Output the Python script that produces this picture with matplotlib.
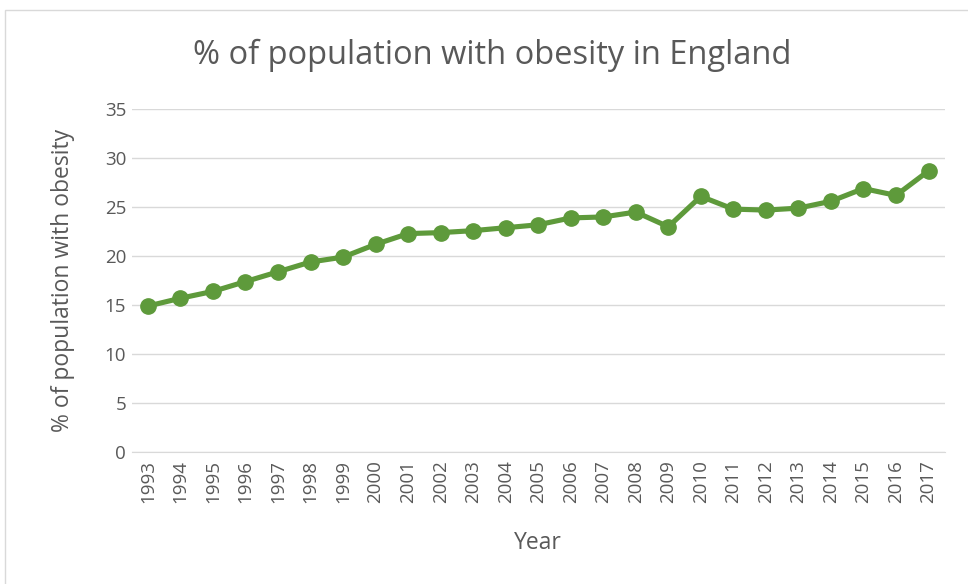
import matplotlib
matplotlib.use("Agg")
import matplotlib.pyplot as plt
from matplotlib.patches import Rectangle

years = [str(y) for y in range(1993, 2018)]
obesity = [14.9, 15.7, 16.4, 17.4, 18.4, 19.4, 19.9, 21.2, 22.3, 22.4,
           22.6, 22.9, 23.2, 23.9, 24.0, 24.5, 23.0, 26.1, 24.8, 24.7,
           24.9, 25.6, 26.9, 26.2, 28.7]

plt.rcParams['font.family'] = ['Open Sans', 'DejaVu Sans']

fig = plt.figure(figsize=(9.68, 5.84), dpi=100)
ax = fig.add_axes([0.136, 0.226, 0.840, 0.587])

# chart border like the spreadsheet frame
fig.patches.append(Rectangle((5 / 968, -0.01), 1.0, 1 - 10 / 584 + 0.01,
                             transform=fig.transFigure, fill=False,
                             edgecolor='#d9d9d9', linewidth=1))

x = range(len(years))
ax.plot(x, obesity, color='#5E9A3B', linewidth=3.7, marker='o',
        markersize=11, solid_capstyle='round', zorder=3)

ax.set_xlim(-0.5, len(years) - 0.5)
ax.set_ylim(0, 35)
ax.set_yticks(range(0, 36, 5))
ax.set_xticks(list(x))
ax.set_xticklabels(years, rotation=90)
ax.grid(axis='y', color='#d9d9d9', linewidth=1)
ax.set_axisbelow(True)
for s in ['top', 'right', 'left']:
    ax.spines[s].set_visible(False)
ax.spines['bottom'].set_color('#d9d9d9')
ax.tick_params(axis='x', length=0, labelsize=13.5, colors='#595959', pad=6)
ax.tick_params(axis='y', length=0, labelsize=13.5, colors='#595959', pad=4)

ax.set_xlabel("Year", fontsize=16.5, color='#595959', va='center')
ax.set_ylabel("% of population with obesity", fontsize=16.5, color='#595959',
              va='center')
ax.xaxis.set_label_coords(0.5, -0.265)
ax.yaxis.set_label_coords(-0.085, 0.5)
fig.text(0.508, 0.906, "% of population with obesity in England",
         ha='center', va='center', fontsize=23.5, color='#595959')

fig.savefig("out.png", dpi=100)
